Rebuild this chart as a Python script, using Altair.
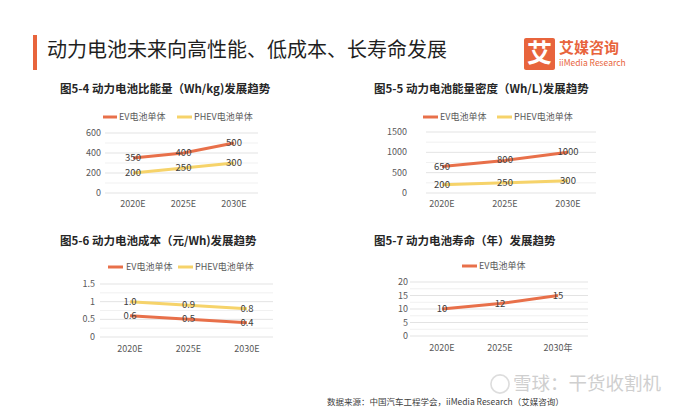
import altair as alt
import pandas as pd

FONT = "Noto Sans CJK SC"
M = 8  # page margin


def P(v):
    return v - M


# ---------------- data ----------------
cats = ["2020E", "2025E", "2030E"]
cats_life = ["2020E", "2025E", "2030年"]
series_names = ["EV电池单体", "PHEV电池单体"]
series_colors = ["#E8704A", "#F6D36A"]

ev_energy = [350, 400, 500]
phev_energy = [200, 250, 300]
ev_density = [650, 800, 1000]
phev_density = [200, 250, 300]
ev_cost = [0.6, 0.5, 0.4]
phev_cost = [1.0, 0.9, 0.8]
ev_life = [10, 12, 15]

ticks_energy = [0, 200, 400, 600]
ticks_density = [0, 500, 1000, 1500]
ticks_cost = [0, 0.5, 1, 1.5]
ticks_life = [0, 5, 10, 15, 20]

titles = [
    "图5-4  动力电池比能量（Wh/kg)发展趋势",
    "图5-5  动力电池能量密度（Wh/L)发展趋势",
    "图5-6  动力电池成本（元/Wh)发展趋势",
    "图5-7  动力电池寿命（年）发展趋势",
]
header_title = "动力电池未来向高性能、低成本、长寿命发展"
source_text = "数据来源：中国汽车工程学会，iiMedia Research（艾媒咨询）"
watermark_text = "雪球：干货收割机"

ONE = pd.DataFrame({"k": [0]})


def panel(title, cats, series, ticks, fmt, g):
    rows = []
    for name, vals in series:
        for c, v in zip(cats, vals):
            rows.append({"cat": c, "series": name, "value": v})
    df = pd.DataFrame(rows)
    ymax = ticks[-1]
    step = ticks[1] - ticks[0]
    grid_major = pd.DataFrame({"g": ticks})
    grid_minor = pd.DataFrame({"g": [t + step / 2 for t in ticks[:-1]]})
    xs = alt.Scale(type="point", domain=cats, range=[P(g["cx0"]), P(g["cx1"])], padding=0)
    ys = alt.Scale(type="linear", domain=[0, ymax], range=[P(g["yb"]), P(g["yt"])], nice=False, zero=True)

    layers = []
    layers.append(alt.Chart(grid_minor).mark_rule(color="#eeeeee", strokeWidth=0.8).encode(
        y=alt.Y("g:Q", scale=ys, axis=None),
        x=alt.value(P(g["gx0"])), x2=alt.value(P(g["gx1"]))))
    layers.append(alt.Chart(grid_major).mark_rule(color="#dcdcdc", strokeWidth=0.8).encode(
        y=alt.Y("g:Q", scale=ys, axis=None),
        x=alt.value(P(g["gx0"])), x2=alt.value(P(g["gx1"]))))
    # y tick labels
    layers.append(alt.Chart(grid_major).mark_text(
        align="right", baseline="middle", font=FONT, fontSize=9, color="#595959").encode(
        y=alt.Y("g:Q", scale=ys, axis=None),
        x=alt.value(P(g["tx"])),
        text=alt.Text("g:Q", format="~g")))
    # category labels
    layers.append(alt.Chart(pd.DataFrame({"cat": cats})).mark_text(
        align="center", baseline="middle", font=FONT, fontSize=9, color="#595959").encode(
        x=alt.X("cat:N", scale=xs, axis=None, sort=cats),
        y=alt.value(P(g["cy"])),
        text="cat:N"))
    # lines
    for i, (name, vals) in enumerate(series):
        sub = df[df.series == name]
        layers.append(alt.Chart(sub).mark_line(strokeWidth=3, color=series_colors[i]).encode(
            x=alt.X("cat:N", scale=xs, axis=None, sort=cats),
            y=alt.Y("value:Q", scale=ys, axis=None)))
    # data labels
    layers.append(alt.Chart(df).mark_text(
        align="center", baseline="middle", font=FONT, fontSize=9.5, color="#404040").encode(
        x=alt.X("cat:N", scale=xs, axis=None, sort=cats),
        y=alt.Y("value:Q", scale=ys, axis=None),
        text=alt.Text("value:Q", format=fmt)))
    # legend
    for i, (name, vals) in enumerate(series):
        lx0, lx1, tx = g["legend"][i]
        ldf = pd.DataFrame({"series": [name]})
        layers.append(alt.Chart(ldf).mark_rule(strokeWidth=3, color=series_colors[i]).encode(
            x=alt.value(P(lx0)), x2=alt.value(P(lx1)), y=alt.value(P(g["ly"]))))
        layers.append(alt.Chart(ldf).mark_text(
            align="left", baseline="middle", font=FONT, fontSize=9, color="#595959").encode(
            x=alt.value(P(tx)), y=alt.value(P(g["ly"])), text="series:N"))
    # title
    layers.append(alt.Chart(ONE).mark_text(
        align="left", baseline="middle", font=FONT, fontSize=11.5, fontWeight="bold",
        color="#262626").encode(
        x=alt.value(P(g["tix"])), y=alt.value(P(g["tiy"])), text=alt.value(title)))
    return alt.layer(*layers)


g1 = dict(cx0=133, cx1=234, yb=193, yt=133, gx0=105, gx1=258, tx=101, cy=204,
          ly=117, legend=[(103, 117, 119), (177, 192, 194)], tix=60, tiy=90)
g2 = dict(cx0=442, cx1=568, yb=193, yt=132, gx0=426, gx1=596, tx=407, cy=204,
          ly=117, legend=[(423, 438, 440), (497, 512, 514)], tix=374, tiy=90)
g3 = dict(cx0=130, cx1=247, yb=337, yt=284, gx0=100, gx1=273, tx=95, cy=349,
          ly=267, legend=[(108, 123, 126), (178, 193, 195)], tix=60, tiy=242)
g4 = dict(cx0=442, cx1=558, yb=336, yt=282, gx0=410, gx1=588, tx=408, cy=348,
          ly=266, legend=[(462, 477, 479)], tix=374, tiy=242)

p1 = panel(titles[0], cats, [(series_names[0], ev_energy), (series_names[1], phev_energy)],
           ticks_energy, "d", g1)
p2 = panel(titles[1], cats, [(series_names[0], ev_density), (series_names[1], phev_density)],
           ticks_density, "d", g2)
p3 = panel(titles[2], cats, [(series_names[0], ev_cost), (series_names[1], phev_cost)],
           ticks_cost, ".1f", g3)
p4 = panel(titles[3], cats_life, [(series_names[0], ev_life)], ticks_life, "d", g4)

ORANGE = "#E8643C"

decor = [
    alt.Chart(ONE).mark_rect(color=ORANGE).encode(
        x=alt.value(P(33)), x2=alt.value(P(37)), y=alt.value(P(35)), y2=alt.value(P(70))),
    alt.Chart(ONE).mark_text(align="left", baseline="middle", font=FONT, fontSize=20,
                             color="#1f1f1f").encode(
        x=alt.value(P(47)), y=alt.value(P(51)), text=alt.value(header_title)),
    alt.Chart(ONE).mark_rect(color=ORANGE, cornerRadius=2).encode(
        x=alt.value(P(524)), x2=alt.value(P(555)), y=alt.value(P(38)), y2=alt.value(P(70))),
    alt.Chart(ONE).mark_text(align="center", baseline="middle", font=FONT, fontSize=25,
                             fontWeight="bold", color="white").encode(
        x=alt.value(P(539.5)), y=alt.value(P(54)), text=alt.value("艾")),
    alt.Chart(ONE).mark_text(align="left", baseline="middle", font=FONT, fontSize=15,
                             fontWeight="bold", color=ORANGE).encode(
        x=alt.value(P(559)), y=alt.value(P(48)), text=alt.value("艾媒咨询")),
    alt.Chart(ONE).mark_text(align="left", baseline="middle", font=FONT, fontSize=8.5,
                             color=ORANGE).encode(
        x=alt.value(P(559)), y=alt.value(P(63)), text=alt.value("iiMedia Research")),
    alt.Chart(ONE).mark_point(shape="circle", filled=False, size=330, strokeWidth=1.6,
                              color="#cfcfcf").encode(
        x=alt.value(P(500)), y=alt.value(P(384))),
    alt.Chart(ONE).mark_text(align="left", baseline="middle", font=FONT, fontSize=18.5,
                             color="#cfcfcf").encode(
        x=alt.value(P(513)), y=alt.value(P(384)), text=alt.value(watermark_text)),
    alt.Chart(ONE).mark_text(align="left", baseline="middle", font=FONT, fontSize=8.5,
                             color="#404040").encode(
        x=alt.value(P(327)), y=alt.value(P(402)), text=alt.value(source_text)),
]

chart = alt.layer(*decor, p1, p2, p3, p4).resolve_scale(
    x="independent", y="independent"
).properties(
    width=658, height=401, padding=0,
    autosize=alt.AutoSizeParams(type="none"),
    background="white",
).configure_view(stroke=None)

chart.save("out.html", embed_options={"renderer": "svg", "actions": False})
